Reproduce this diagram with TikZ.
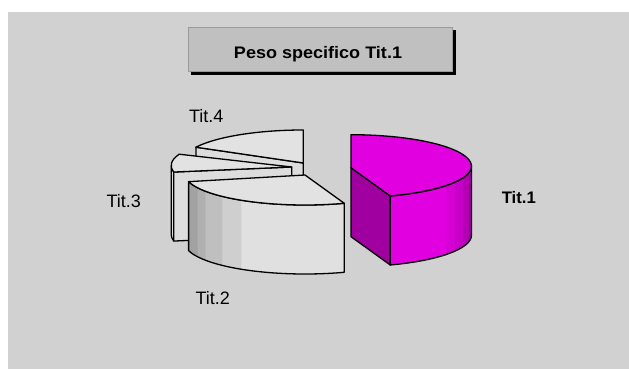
\documentclass[tikz,border=0pt]{standalone}
\usepackage{fontspec}
\setmainfont{Liberation Sans}
\definecolor{panelgrey}{HTML}{D1D1D1}
\definecolor{titlegrey}{HTML}{C0C0C0}
\definecolor{titleedge}{HTML}{9A9A9A}
\definecolor{topgrey}{HTML}{E2E2E2}
\definecolor{sidegrey}{HTML}{DDDDDD}
\definecolor{gA}{HTML}{A2A2A2}
\definecolor{gB}{HTML}{B0B0B0}
\definecolor{gC}{HTML}{BFBFBF}
\definecolor{gD}{HTML}{CFCFCF}
\definecolor{gE}{HTML}{E0E0E0}
\definecolor{mag}{HTML}{E000E0}
\definecolor{magdark}{HTML}{A000A0}
\definecolor{mA}{HTML}{D400D4}
\definecolor{mB}{HTML}{C600C6}
\definecolor{mC}{HTML}{B600B6}
\definecolor{mD}{HTML}{A800A8}
% band of an outer (curved) face: centre, start angle, end angle, colour
\newcommand\pieband[4]{%
  \fill[#4] (#1) ++(#2:120.5 and 31.5)
    arc[start angle=#2,end angle=#3,x radius=120.5,y radius=31.5]
    -- ++(0,-69)
    arc[start angle=#3,end angle=#2,x radius=120.5,y radius=31.5] -- cycle;}
\newcommand\piebandline[3]{%
  \draw[outl] (#1) ++(#2:120.5 and 31.5)
    arc[start angle=#2,end angle=#3,x radius=120.5,y radius=31.5]
    -- ++(0,-69)
    arc[start angle=#3,end angle=#2,x radius=120.5,y radius=31.5] -- cycle;}
\begin{document}
\begin{tikzpicture}[x=1pt,y=1pt,line join=round,
  outl/.style={draw=black,line width=1.3pt},
  lab/.style={font=\fontsize{18}{20}\selectfont,inner sep=0pt,anchor=base},
  labbold/.style={font=\fontsize{16.7}{19}\selectfont\bfseries,inner sep=0pt,anchor=base}]
\useasboundingbox (0,0) rectangle (629,-369);
\fill[white] (0,0) rectangle (629,-369);
\fill[panelgrey] (8.3,-11.7) rectangle (629,-369);

% title box
\fill[black] (190.8,-29.8) rectangle (455.6,-74.6);
\node[fill=titlegrey,draw=titleedge,line width=0.8pt,minimum width=264.5pt,
      minimum height=44.5pt,inner sep=0pt] (titlebox) at (320.6,-49.6) {};
\node[labbold,xscale=1.08] (title) at (318,-59) {Peso specifico Tit.1};

% apex and ellipse centres of the four slices
\coordinate (E1) at (351,-166.2);   \coordinate (A1) at (351,-167.7);
\coordinate (E2) at (305,-173.5);   \coordinate (A2) at (305,-175);
\coordinate (E3) at (291.7,-165.5); \coordinate (A3) at (291.7,-167);
\coordinate (E4) at (303.3,-161.5); \coordinate (A4) at (303.3,-163);
\path (A1) ++(0,-69) coordinate (A1b);
\path (A3) ++(0,-69) coordinate (A3b);
\path (A4) ++(0,-69) coordinate (A4b);
% rim points
\path (E1) ++(-71:120.5 and 31.5) coordinate (P1a);
\path (E2) ++(195:120.5 and 31.5) coordinate (P2a);
\path (E3) ++(159:120.5 and 31.5) coordinate (P3a);
\path (E3) ++(192:120.5 and 31.5) coordinate (P3b);
\path (E4) ++(90:120.5 and 31.5)  coordinate (P4a);
\path (E4) ++(153:120.5 and 31.5) coordinate (P4b);
\path (P1a) ++(0,-69) coordinate (P1ab);
\path (P3b) ++(0,-69) coordinate (P3bb);
\path (P4b) ++(0,-69) coordinate (P4bb);

% ---- Tit.4 (back) ----
\filldraw[outl,fill=sidegrey] (A4) -- (P4b) -- (P4bb) -- (A4b) -- cycle;
\draw[outl] (P4a) -- (A4b);
\filldraw[outl,fill=topgrey] (A4) -- (P4a)
  arc[start angle=90,end angle=153,x radius=120.5,y radius=31.5] -- cycle;

% ---- Tit.3 ----
\pieband{E3}{180}{192}{sidegrey}
\piebandline{E3}{180}{192}
\filldraw[outl,fill=sidegrey] (A3) -- (P3b) -- (P3bb) -- (A3b) -- cycle;
\filldraw[outl,fill=topgrey] (A3) -- (P3a)
  arc[start angle=159,end angle=192,x radius=120.5,y radius=31.5] -- cycle;

% ---- Tit.2 (front) ----
\pieband{E2}{195}{289}{gE}
\pieband{E2}{195}{238.1}{gD}
\pieband{E2}{195}{226.7}{gC}
\pieband{E2}{195}{214.5}{gB}
\pieband{E2}{195}{207.1}{gA}
\piebandline{E2}{195}{289}
\filldraw[outl,fill=topgrey] (A2) -- (P2a)
  arc[start angle=195,end angle=289,x radius=120.5,y radius=31.5] -- cycle;

% ---- Tit.1 (magenta, exploded right) ----
\filldraw[outl,fill=magdark] (A1) -- (P1a) -- (P1ab) -- (A1b) -- cycle;
\pieband{E1}{-71}{0}{mD}
\pieband{E1}{-71}{-13.3}{mC}
\pieband{E1}{-71}{-21.3}{mB}
\pieband{E1}{-71}{-30.3}{mA}
\pieband{E1}{-71}{-37.4}{mag}
\piebandline{E1}{-71}{0}
\filldraw[outl,fill=mag] (A1) -- (P1a)
  arc[start angle=-71,end angle=90,x radius=120.5,y radius=31.5] -- cycle;

% labels
\node[labbold] (l1) at (518.8,-203.3) {Tit.1};
\node[lab] (l2) at (212.8,-304) {Tit.2};
\node[lab] (l3) at (123.8,-207.3) {Tit.3};
\node[lab] (l4) at (206.2,-122.7) {Tit.4};
\end{tikzpicture}
\end{document}
